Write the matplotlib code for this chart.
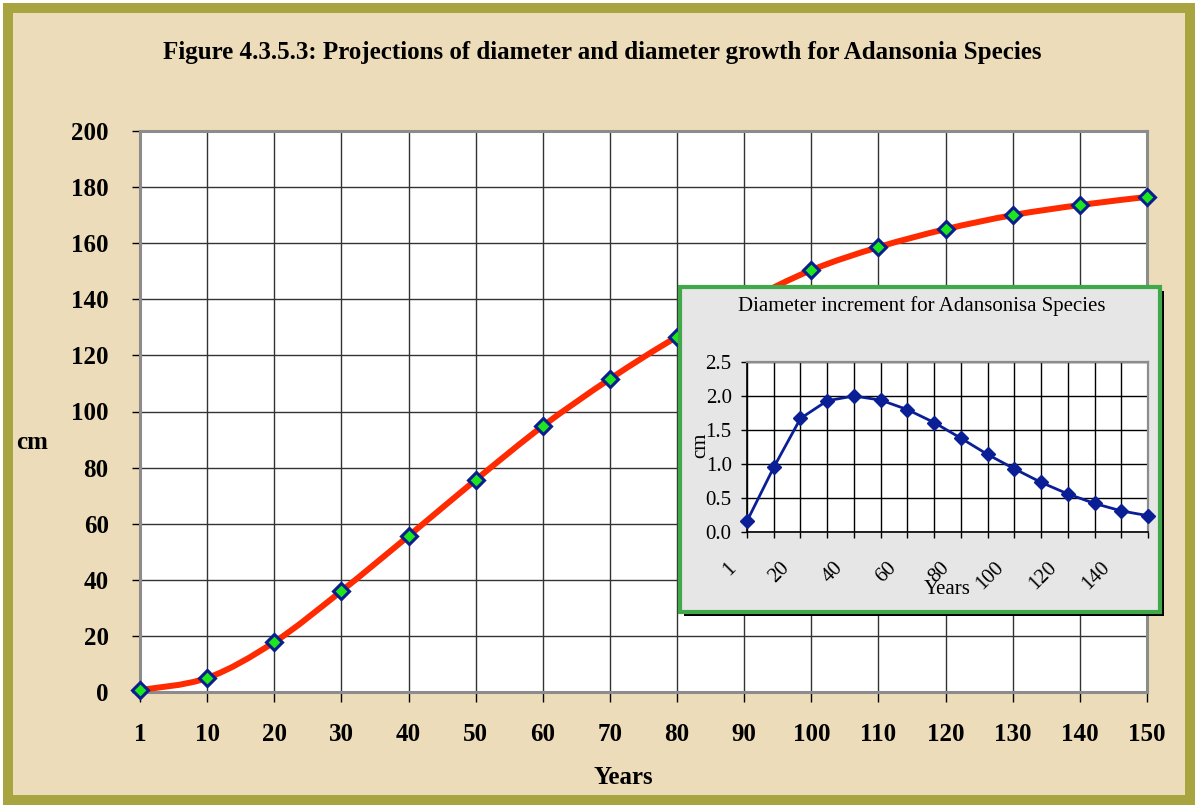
import numpy as np
import matplotlib
matplotlib.use("Agg")
import matplotlib.pyplot as plt
from matplotlib.patches import Rectangle, PathPatch
from matplotlib.path import Path
import matplotlib.transforms as mtransforms

# data
years = ["1", "10", "20", "30", "40", "50", "60", "70", "80", "90",
         "100", "110", "120", "130", "140", "150"]
diameter = [0.7, 5.0, 17.8, 36.0, 55.6, 75.6, 94.8, 111.6, 126.6, 139.0,
            150.4, 158.6, 165.0, 170.0, 173.6, 176.5]
increment = [0.16, 0.95, 1.67, 1.93, 2.00, 1.94, 1.80, 1.61, 1.38, 1.14,
             0.93, 0.73, 0.56, 0.42, 0.31, 0.24]
inset_labels = ["1", "", "20", "", "40", "", "60", "", "80", "", "100", "", "120", "", "140", ""]

W, H = 1198, 808
plt.rcParams['font.family'] = ['Liberation Serif', 'DejaVu Serif']

def px(l, t, r, b):
    return [l / W, 1 - b / H, (r - l) / W, (b - t) / H]

def smooth_path(xs, ys):
    # bezier segments like a spreadsheet "smoothed line"
    pts = np.column_stack([xs, ys]).astype(float)
    n = len(pts)
    verts = [pts[0]]
    codes = [Path.MOVETO]
    for i in range(n - 1):
        p0 = pts[max(i - 1, 0)]
        p1 = pts[i]
        p2 = pts[i + 1]
        p3 = pts[min(i + 2, n - 1)]
        c1 = p1 + (p2 - p0) / 6.0
        c2 = p2 - (p3 - p1) / 6.0
        verts += [c1, c2, p2]
        codes += [Path.CURVE4] * 3
    return Path(verts, codes)

fig = plt.figure(figsize=(W / 100, H / 100), dpi=100)
fig.patch.set_facecolor('white')

# paper background with olive frame
fig.add_artist(Rectangle((8 / W, 8 / H), (W - 16) / W, (H - 16) / H,
                         transform=fig.transFigure, facecolor='#ecdcb9',
                         edgecolor='#a8a540', linewidth=7.2, zorder=-10))

fig.text(602 / W, 1 - 52 / H,
         "Figure 4.3.5.3: Projections of diameter and diameter growth for Adansonia Species",
         ha='center', va='center', fontsize=18, fontweight='bold')

# main chart
ax = fig.add_axes(px(140, 131, 1147, 692))
ax.set_facecolor('white')
x = np.arange(len(years))
ax.set_xlim(0, len(years) - 1)
ax.set_ylim(0, 200)
ax.set_xticks(x)
ax.set_xticklabels(years)
ax.set_yticks(np.arange(0, 201, 20))
ax.grid(True, color='#333333', linewidth=1.0)
ax.set_axisbelow(True)
for s in ax.spines.values():
    s.set_color('#8c8c8c')
    s.set_linewidth(2.2)
ax.tick_params(axis='both', width=1, color='black', labelsize=18)
ax.tick_params(axis='x', length=7, pad=15)
ax.tick_params(axis='y', length=5.5, pad=17)
for lab in ax.get_xticklabels() + ax.get_yticklabels():
    lab.set_fontweight('bold')

ax.add_patch(PathPatch(smooth_path(x, diameter), facecolor='none',
                       edgecolor='#ff2a00', linewidth=4.3, zorder=3))
ax.plot(x, diameter, linestyle='none', marker='D', markersize=8,
        markerfacecolor='#1ee61e', markeredgecolor='#0a1e8c',
        markeredgewidth=2.2, zorder=4, clip_on=False)

fig.text(623 / W, 1 - 777 / H, "Years", ha='center', va='center',
         fontsize=18, fontweight='bold')
fig.text(32 / W, 1 - 442 / H, "cm", ha='center', va='center',
         fontsize=18, fontweight='bold')

# inset box with shadow
fig.add_artist(Rectangle((684 / W, 1 - 616 / H), 480 / W, 325 / H,
                         transform=fig.transFigure, facecolor='black',
                         edgecolor='none', zorder=5))
fig.add_artist(Rectangle((680 / W, 1 - 612 / H), 480 / W, 325 / H,
                         transform=fig.transFigure, facecolor='#e6e6e6',
                         edgecolor='#40a848', linewidth=3, zorder=6))

fig.text(922 / W, 1 - 306 / H, "Diameter increment for Adansonisa Species",
         ha='center', va='center', fontsize=15, zorder=7)

ax2 = fig.add_axes(px(747, 362, 1148, 532), zorder=8)
ax2.set_facecolor('white')
ax2.set_xlim(0, len(years) - 1)
ax2.set_ylim(0, 2.5)
ax2.set_xticks(x)
ax2.set_xticklabels(inset_labels, rotation=45, ha='right', fontsize=15)
ax2.set_yticks(np.arange(0, 2.51, 0.5))
ax2.set_yticklabels([f"{v:.1f}" for v in np.arange(0, 2.51, 0.5)], fontsize=15)
ax2.grid(True, color='black', linewidth=1.0)
ax2.set_axisbelow(True)
for k in ['top', 'right']:
    ax2.spines[k].set_color('#8c8c8c')
    ax2.spines[k].set_linewidth(1.6)
for k in ['left', 'bottom']:
    ax2.spines[k].set_color('black')
    ax2.spines[k].set_linewidth(1.2)
ax2.tick_params(axis='both', length=4, width=1, color='black')
ax2.tick_params(axis='x', pad=15)
ax2.tick_params(axis='y', pad=7)
shift = mtransforms.ScaledTranslation(-7 / 100, 0, fig.dpi_scale_trans)
for lab in ax2.get_xticklabels():
    lab.set_transform(lab.get_transform() + shift)

ax2.plot(x, increment, color='#0a1e96', linewidth=2, marker='D',
         markersize=7, markerfacecolor='#0a1e96', markeredgecolor='#0a1e96',
         clip_on=False, zorder=4)

fig.text(947 / W, 1 - 590 / H, "Years", ha='center', va='center',
         fontsize=15, zorder=9)
fig.text(701 / W, 1 - 445 / H, "cm", ha='center', va='center',
         fontsize=15, rotation=90, zorder=9)

fig.savefig("out.png", dpi=100)
